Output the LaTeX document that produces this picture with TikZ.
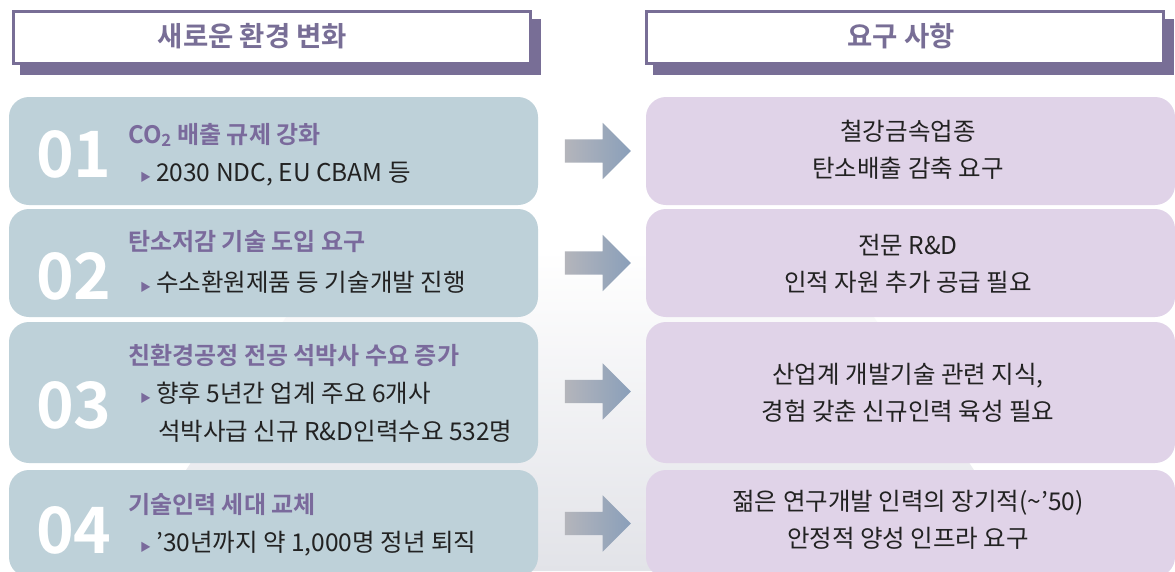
\documentclass[tikz,border=0pt]{standalone}
\usepackage{fontspec}
\setmainfont{Noto Sans CJK KR}
\newfontfamily\krbold{Noto Sans CJK KR Bold}
\usetikzlibrary{shapes.arrows}
\definecolor{lboxc}{HTML}{BED1D9}
\definecolor{rboxc}{HTML}{E0D3E8}
\definecolor{hpurple}{HTML}{786E96}
\definecolor{titlec}{HTML}{7A6A9C}
\definecolor{textc}{HTML}{222222}
\definecolor{arrgray}{HTML}{B4B5BB}
\definecolor{arrblue}{HTML}{8A9FBA}
\definecolor{bggray}{HTML}{E2E3E8}
\tikzset{
  lbox/.style={rectangle, rounded corners=20pt, fill=lboxc, minimum width=529pt, inner sep=0pt},
  rbox/.style={rectangle, rounded corners=20pt, fill=rboxc, minimum width=529pt, inner sep=0pt},
  rtxt/.style={inner sep=0pt, text=textc, align=center, font=\fontsize{24.5}{37}\selectfont},
  hshadow/.style={rectangle, fill=hpurple, minimum width=521pt, minimum height=56pt, inner sep=0pt},
  hbox/.style={rectangle, draw=hpurple, line width=3pt, fill=white, minimum width=517pt, minimum height=52pt, inner sep=0pt},
  htxt/.style={inner sep=0pt, text=hpurple, font=\krbold\fontsize{27.5}{27.5}\selectfont},
  numtxt/.style={anchor=base west, inner sep=0pt, text=white, font=\krbold\fontsize{64}{64}\selectfont},
  ttltxt/.style={anchor=base west, inner sep=0pt, text=titlec, font=\krbold\fontsize{24}{24}\selectfont},
  subtxt/.style={anchor=base west, inner sep=0pt, text=textc, font=\fontsize{24.5}{24.5}\selectfont},
  blockarrow/.style={single arrow, shape border rotate=0, minimum height=66pt, minimum width=56pt,
     inner sep=11.5pt, single arrow head extend=16.5pt, single arrow tip angle=90,
     left color=arrgray, middle color=arrgray, right color=arrblue, draw=none}
}
\newcommand{\tri}{{\color{titlec}\fontsize{11}{11}\selectfont ▶}\hspace{5pt}}
\begin{document}
\begin{tikzpicture}[x=1pt,y=-1pt]
\useasboundingbox (0,0) rectangle (1175,571);
\clip (0,0) rectangle (1175,571);
\fill[white] (0,0) rectangle (1175,571);
% faint background
\shade[top color=white, bottom color=bggray] (330,250) -- (830,250) -- (1040,571) -- (120,571) -- cycle;

% headers
\node[hshadow] (hs1) at (280.5,47) {};
\node[hbox] (h1) at (272,37.5) {};
\node[htxt] (ht1) at (252.5,36) {새로운 환경 변화};
\node[hshadow] (hs2) at (913.5,47) {};
\node[hbox] (h2) at (904.5,37.5) {};
\node[htxt] (ht2) at (901,36) {요구 사항};

% left boxes
\node[lbox, minimum height=108pt] (l1) at (273.5,151) {};
\node[lbox, minimum height=108pt] (l2) at (273.5,263) {};
\node[lbox, minimum height=141pt] (l3) at (273.5,392.5) {};
\node[lbox, minimum height=107pt] (l4) at (273.5,523.5) {};

% right boxes
\node[rbox, minimum height=108pt] (r1) at (910.5,151) {};
\node[rbox, minimum height=108pt] (r2) at (910.5,263) {};
\node[rbox, minimum height=141pt] (r3) at (910.5,392.5) {};
\node[rbox, minimum height=107pt] (r4) at (910.5,523.5) {};

% arrows
\node[blockarrow] (a1) at (592,151) {};
\node[blockarrow] (a2) at (592,263) {};
\node[blockarrow] (a3) at (592,391.5) {};
\node[blockarrow] (a4) at (592,523.5) {};

% numbers
\node[numtxt] (n1) at (36,177) {01};
\node[numtxt] (n2) at (36,299) {02};
\node[numtxt] (n3) at (36,428) {03};
\node[numtxt] (n4) at (36,553) {04};

% left texts
\node[ttltxt] (t1) at (128,143) {CO\textsubscript{2} 배출 규제 강화};
\node[subtxt] (s1) at (140,181) {\tri 2030 NDC, EU CBAM 등};
\node[ttltxt] (t2) at (128,250) {탄소저감 기술 도입 요구};
\node[subtxt] (s2) at (140,291) {\tri 수소환원제품 등 기술개발 진행};
\node[ttltxt] (t3) at (128,364) {친환경공정 전공 석박사 수요 증가};
\node[subtxt] (s3) at (140,402) {\tri 향후 5년간 업계 주요 6개사};
\node[subtxt] (s3b) at (158,440) {석박사급 신규 R\&D인력수요 532명};
\node[ttltxt] (t4) at (128,513) {기술인력 세대 교체};
\node[subtxt] (s4) at (140,551) {\tri ’30년까지 약 1,000명 정년 퇴직};

% right texts
\node[rtxt] (rt1) at (908,150) {철강금속업종\\탄소배출 감축 요구};
\node[rtxt] (rt2) at (908,263.5) {전문 R\&D\\인적 자원 추가 공급 필요};
\node[rtxt] (rt3) at (908,393) {산업계 개발기술 관련 지식,\\경험 갖춘 신규인력 육성 필요};
\node[rtxt] (rt4) at (908,520) {젊은 연구개발 인력의 장기적(\textasciitilde’50)\\안정적 양성 인프라 요구};
\end{tikzpicture}
\end{document}
